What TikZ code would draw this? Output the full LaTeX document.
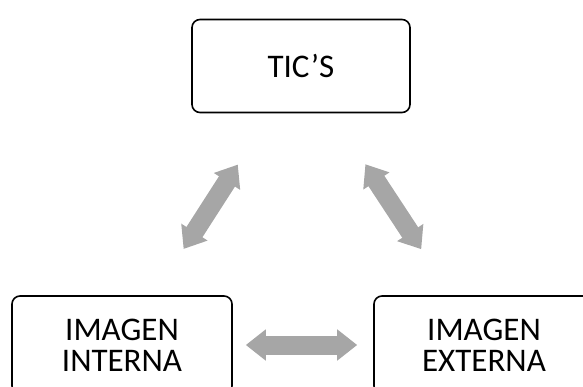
\documentclass[tikz,border=0pt]{standalone}
\usepackage{fontspec}
\setmainfont{Carlito}
\usetikzlibrary{arrows.meta}
\usepackage{xcolor}
\definecolor{arrowgray}{HTML}{A6A6A6}

\begin{document}
\begin{tikzpicture}[x=1pt, y=-1pt,
    box/.style={draw, line width=1.6pt, rounded corners=8pt, fill=white, align=center,
                font=\fontsize{33}{31}\selectfont},
    link/.style={draw=arrowgray, line width=19pt,
                 {Triangle[length=20pt,width=30pt]}-{Triangle[length=20pt,width=30pt]}}]
            \useasboundingbox (0,0) rectangle (583,387);

            \node[box, minimum width=218pt, minimum height=93pt] (tics) at (301,66) {TIC'S};
            \node[box, minimum width=220pt, minimum height=98pt] (intern) at (122,345) {IMAGEN\\INTERNA};
            \node[box, minimum width=220pt, minimum height=98pt] (extern) at (484,345) {IMAGEN\\EXTERNA};

            \draw[link, shorten <=55pt, shorten >=61pt] (intern) -- (tics);
            \draw[link, shorten <=55pt, shorten >=61pt] (extern) -- (tics);
            \draw[link, shorten <=13pt, shorten >=16pt] (intern) -- (extern);
        \end{tikzpicture}
\end{document}
